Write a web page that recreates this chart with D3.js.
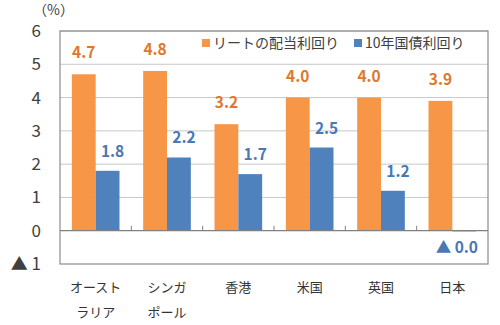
<!DOCTYPE html>
<html>
<head>
<meta charset="utf-8">
<script src="https://d3js.org/d3.v7.min.js"></script>
<style>
  body { margin: 0; background: #fff; }
  text { font-family: "Noto Sans CJK JP", "Noto Sans", sans-serif; }
</style>
</head>
<body>
<svg width="500" height="325"></svg>
<script>
var categories = [["オースト", "ラリア"], ["シンガ", "ポール"], ["香港"], ["米国"], ["英国"], ["日本"]];
var seriesNames = ["リートの配当利回り", "10年国債利回り"];
var reitYield = [4.7, 4.8, 3.2, 4.0, 4.0, 3.9];
var bondYield = [1.8, 2.2, 1.7, 2.5, 1.2, -0.02];
var yTicks = [-1, 0, 1, 2, 3, 4, 5, 6];
var colors = ["#F79646", "#4F81BD"];
var labelColors = ["#E0782C", "#4A78B5"];

var svg = d3.select("svg");
var plotLeft = 60, plotRight = 488, plotTop = 31, plotBottom = 264;

var keys = categories.map(c => c.join(""));
var x = d3.scaleBand().domain(keys).range([plotLeft, plotRight]);
var bw = x.bandwidth();
var x1 = d3.scaleBand().domain(seriesNames).range([bw * 0.166, bw * 0.834]);
var y = d3.scaleLinear().domain([-1, 6]).range([plotBottom, plotTop]);

// gridlines
svg.append("g").selectAll("line")
  .data(yTicks.filter(t => t > 0))
  .enter().append("line")
  .attr("x1", plotLeft).attr("x2", plotRight)
  .attr("y1", d => y(d)).attr("y2", d => y(d))
  .attr("stroke", "#c8c8c8").attr("stroke-width", 1);

// y labels
svg.append("g").selectAll("text")
  .data(yTicks)
  .enter().append("text")
  .attr("x", 41).attr("y", d => y(d) + 6)
  .attr("text-anchor", "end")
  .attr("font-size", 17).attr("fill", "#404040")
  .text(d => d < 0 ? "▲ " + Math.abs(d) : d);

svg.append("text")
  .attr("x", 33).attr("y", 15)
  .attr("font-size", 14).attr("fill", "#404040")
  .text("（%）");

// bars
var rows = keys.map((k, i) => ({key: k, vals: [reitYield[i], bondYield[i]]}));
var groups = svg.append("g").selectAll("g")
  .data(rows)
  .enter().append("g")
  .attr("transform", d => "translate(" + x(d.key) + ",0)");

groups.selectAll("rect")
  .data(d => d.vals.map((v, j) => ({name: seriesNames[j], v: v, j: j})))
  .enter().append("rect")
  .attr("x", d => x1(d.name))
  .attr("width", x1.bandwidth())
  .attr("y", d => y(Math.max(0, d.v)))
  .attr("height", d => Math.abs(y(d.v) - y(0)))
  .attr("fill", d => colors[d.j]);

// value labels
groups.selectAll("text.val")
  .data(d => d.vals.map((v, j) => ({name: seriesNames[j], v: v, j: j})))
  .enter().append("text")
  .attr("class", "val")
  .attr("x", d => d.v < 0 ? bw - 10 : x1(d.name) + x1.bandwidth() / 2 + (d.j === 1 ? 5 : 0))
  .attr("y", d => d.v < 0 ? y(0) + 22 : y(d.v) - (d.j === 0 ? 16 : 14))
  .attr("text-anchor", d => d.v < 0 ? "end" : "middle")
  .attr("font-size", 15.5).attr("font-weight", "bold")
  .attr("fill", d => labelColors[d.j])
  .text(d => d.v < 0 ? "▲ " + Math.abs(d.v).toFixed(1) : d.v.toFixed(1));

// zero line and small ticks
svg.append("line")
  .attr("x1", plotLeft).attr("x2", plotRight)
  .attr("y1", y(0)).attr("y2", y(0))
  .attr("stroke", "#808080").attr("stroke-width", 1.2);
svg.append("g").selectAll("line")
  .data(keys.slice(1))
  .enter().append("line")
  .attr("x1", d => x(d)).attr("x2", d => x(d))
  .attr("y1", y(0)).attr("y2", y(0) - 5)
  .attr("stroke", "#808080");

// plot border
svg.append("rect")
  .attr("x", plotLeft).attr("y", plotTop)
  .attr("width", plotRight - plotLeft).attr("height", plotBottom - plotTop)
  .attr("fill", "none").attr("stroke", "#8c8c8c").attr("stroke-width", 1.2);

// category labels
var cat = svg.append("g").selectAll("text")
  .data(categories)
  .enter().append("text")
  .attr("text-anchor", "middle")
  .attr("font-size", 13).attr("fill", "#333");
cat.selectAll("tspan")
  .data((d, i) => d.map(s => ({s: s, k: keys[i]})))
  .enter().append("tspan")
  .attr("x", d => x(d.k) + bw / 2)
  .attr("y", (d, i) => 292 + i * 25)
  .text(d => d.s);

// legend
var legend = svg.append("g");
var lx = [202, 354];
seriesNames.forEach(function(n, i) {
  legend.append("rect")
    .attr("x", lx[i]).attr("y", 39).attr("width", 8).attr("height", 8)
    .attr("fill", colors[i]);
  legend.append("text")
    .attr("x", lx[i] + 11).attr("y", 48)
    .attr("font-size", 14).attr("fill", "#404040")
    .text(n);
});
</script>
</body>
</html>
